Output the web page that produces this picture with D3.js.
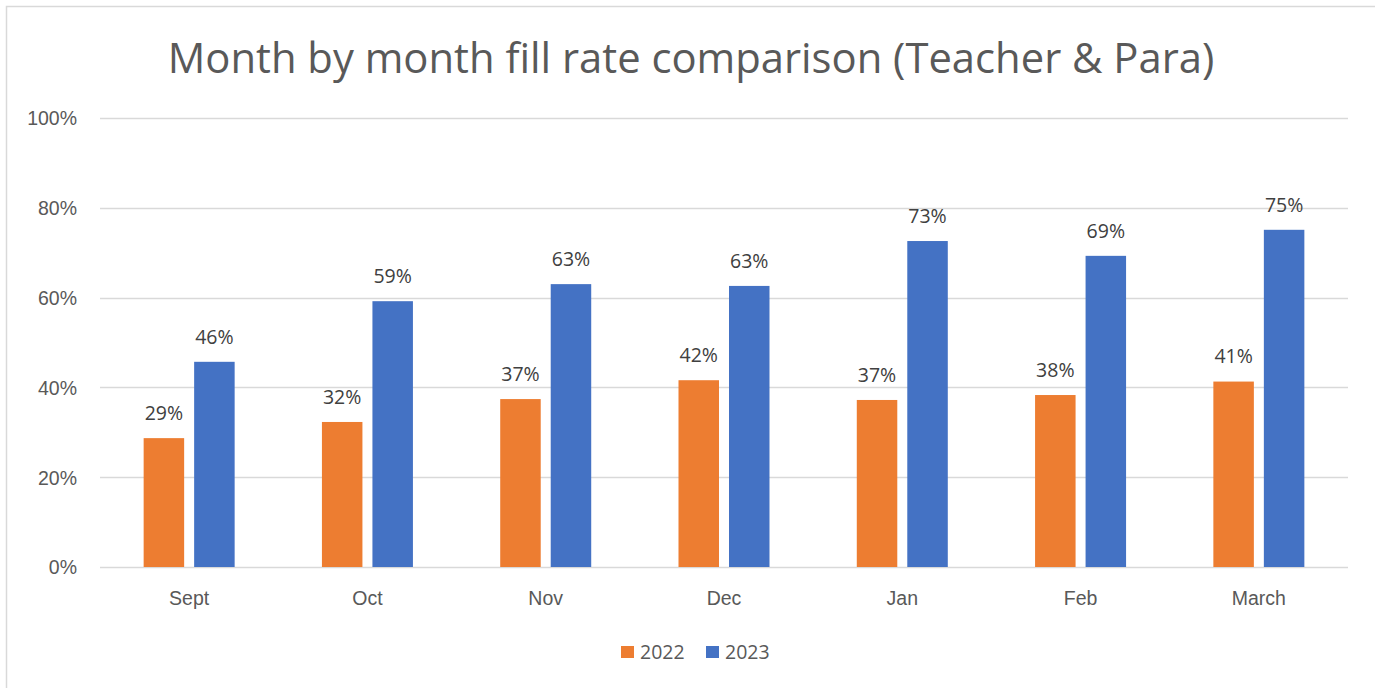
<!DOCTYPE html>
<html>
<head>
<meta charset="utf-8">
<script src="https://cdn.jsdelivr.net/npm/d3@7"></script>
<style>
  body { margin: 0; background: #fff; }
  svg { display: block; font-family: "Open Sans", "Noto Sans", sans-serif; }
</style>
</head>
<body>
<div id="chart"></div>
<script>
/* Chart data */
const months = ['Sept', 'Oct', 'Nov', 'Dec', 'Jan', 'Feb', 'March'];
const years = ['2022', '2023'];
const fill2022 = [0.287, 0.323, 0.374, 0.416, 0.372, 0.383, 0.413];
const fill2023 = [0.457, 0.592, 0.630, 0.626, 0.726, 0.693, 0.751];
const yTicks = [0, 0.2, 0.4, 0.6, 0.8, 1];

const width = 1375;
const height = 688;
const colors = { '2022': '#ed7d31', '2023': '#4472c4' };
const textColor = '#595959';
const labelSize = '19.5px';

const margin = { top: 118, right: 27, bottom: 121, left: 100 };

const svg = d3
  .select('#chart')
  .append('svg')
  .attr('width', width)
  .attr('height', height);

// outer frame of the chart
svg
  .append('rect')
  .attr('x', 6.5)
  .attr('y', 6.5)
  .attr('width', width + 10)
  .attr('height', height + 10)
  .attr('fill', '#fff')
  .attr('stroke', '#d9d9d9')
  .attr('stroke-width', 1.5);

const rows = months.map((m, i) => ({
  month: m,
  values: [
    { year: '2022', value: fill2022[i] },
    { year: '2023', value: fill2023[i] },
  ],
}));

// Scales
const x0 = d3
  .scaleBand()
  .domain(months)
  .range([margin.left, width - margin.right]);

const groupWidth = 91;
const x1 = d3
  .scaleBand()
  .domain(years)
  .range([0, groupWidth])
  .paddingInner(0.198);

const y = d3
  .scaleLinear()
  .domain([0, 1])
  .range([height - margin.bottom, margin.top]);

// Gridlines
svg
  .append('g')
  .selectAll('line')
  .data(yTicks)
  .join('line')
  .attr('x1', margin.left)
  .attr('x2', width - margin.right)
  .attr('y1', (d) => Math.round(y(d)) + 0.5)
  .attr('y2', (d) => Math.round(y(d)) + 0.5)
  .attr('stroke', '#d9d9d9')
  .attr('stroke-width', 1.3);

// Y axis labels
const yAxis = svg
  .append('g')
  .attr('transform', `translate(${margin.left - 23},0)`)
  .call(
    d3.axisLeft(y).tickValues(yTicks).tickSize(0).tickFormat(d3.format('.0%'))
  );
yAxis.select('.domain').remove();
yAxis
  .selectAll('text')
  .attr('fill', textColor)
  .style('font-size', labelSize)
  .attr('x', 0)
  .attr('dy', '0.35em');

// X axis labels
const xAxis = svg
  .append('g')
  .attr('transform', `translate(0,${height - margin.bottom})`)
  .call(d3.axisBottom(x0).tickSize(0));
xAxis.select('.domain').remove();
xAxis
  .selectAll('text')
  .attr('fill', textColor)
  .style('font-size', labelSize)
  .attr('y', 31)
  .attr('dy', '0.35em');

// Bars
const groups = svg
  .append('g')
  .selectAll('g')
  .data(rows)
  .join('g')
  .attr(
    'transform',
    (d) =>
      `translate(${x0(d.month) + x0.bandwidth() / 2 - groupWidth / 2},0)`
  );

groups
  .selectAll('rect')
  .data((d) => d.values)
  .join('rect')
  .attr('x', (d) => x1(d.year))
  .attr('y', (d) => y(d.value))
  .attr('width', x1.bandwidth())
  .attr('height', (d) => y(0) - y(d.value))
  .attr('fill', (d) => colors[d.year]);

// value labels
groups
  .selectAll('text')
  .data((d) => d.values)
  .join('text')
  .attr('x', (d) => x1(d.year) + x1.bandwidth() / 2)
  .attr('y', (d) => y(d.value) - 25)
  .attr('dy', '0.35em')
  .attr('text-anchor', 'middle')
  .attr('fill', '#404040')
  .style('font-size', labelSize)
  .text((d) => d3.format('.0%')(d.value));

// Title
const title = svg
  .append('text')
  .attr('x', 691)
  .attr('y', 73)
  .attr('text-anchor', 'middle')
  .attr('fill', textColor)
  .style('font-size', '40px')
  .text('Month by month fill rate comparison (Teacher & Para)');

// fit title to the reference width
const tw = title.node().getComputedTextLength();
title.style('font-size', (40 * 1047) / tw + 'px');

// Legend
const legend = svg
  .append('g')
  .selectAll('g')
  .data(years)
  .join('g')
  .attr('transform', (d, i) => `translate(${621 + i * 85},${646})`);

legend
  .append('rect')
  .attr('width', 13)
  .attr('height', 12)
  .attr('fill', (d) => colors[d]);

legend
  .append('text')
  .attr('x', 19)
  .attr('y', 6)
  .attr('dy', '0.35em')
  .attr('fill', textColor)
  .style('font-size', labelSize)
  .text((d) => d);
</script>
</body>
</html>
